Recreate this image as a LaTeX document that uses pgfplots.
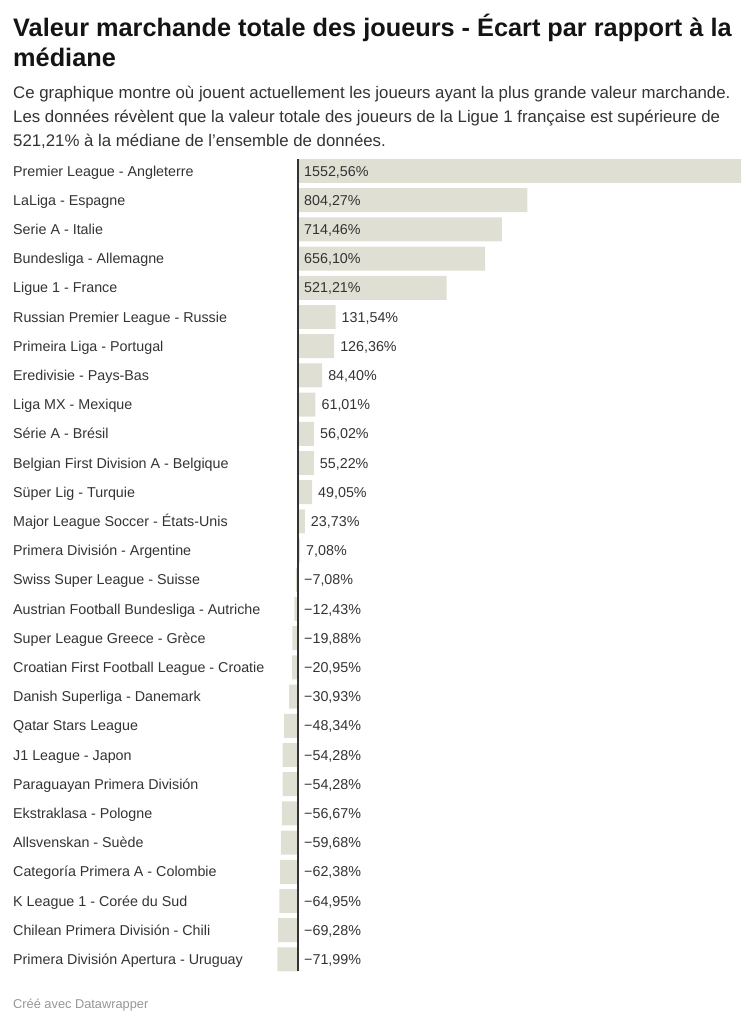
\documentclass[border=0pt]{standalone}
\usepackage{fontspec}
\setmainfont{Liberation Sans}
\usepackage{pgfplots}
\pgfplotsset{compat=1.18}
\usepackage{pgfplotstable}
\definecolor{barc}{RGB}{224,223,212}
\definecolor{txt}{RGB}{51,51,51}
\definecolor{ttl}{RGB}{20,20,20}
\definecolor{foot}{RGB}{150,150,150}

\pgfplotstableread{
y x lab
0 1552.56 {1552,56\%}
1 804.27 {804,27\%}
2 714.46 {714,46\%}
3 656.10 {656,10\%}
4 521.21 {521,21\%}
5 131.54 {131,54\%}
6 126.36 {126,36\%}
7 84.40 {84,40\%}
8 61.01 {61,01\%}
9 56.02 {56,02\%}
10 55.22 {55,22\%}
11 49.05 {49,05\%}
12 23.73 {23,73\%}
13 7.08 {7,08\%}
14 -7.08 {−7,08\%}
15 -12.43 {−12,43\%}
16 -19.88 {−19,88\%}
17 -20.95 {−20,95\%}
18 -30.93 {−30,93\%}
19 -48.34 {−48,34\%}
20 -54.28 {−54,28\%}
21 -54.28 {−54,28\%}
22 -56.67 {−56,67\%}
23 -59.68 {−59,68\%}
24 -62.38 {−62,38\%}
25 -64.95 {−64,95\%}
26 -69.28 {−69,28\%}
27 -71.99 {−71,99\%}
}\data

\begin{document}
\begin{tikzpicture}[x=1pt,y=1pt]
\path[use as bounding box] (0,0) rectangle (754,-1024);
\node[anchor=base west, inner sep=0pt, text=ttl, font=\fontsize{25.3}{30}\selectfont\bfseries] at (13,-37) {Valeur marchande totale des joueurs - Écart par rapport à la};
\node[anchor=base west, inner sep=0pt, text=ttl, font=\fontsize{25.3}{30}\selectfont\bfseries] at (13,-67) {médiane};
\node[anchor=base west, inner sep=0pt, text=txt, font=\fontsize{16.8}{24}\selectfont] at (13,-99) {Ce graphique montre où jouent actuellement les joueurs ayant la plus grande valeur marchande.};
\node[anchor=base west, inner sep=0pt, text=txt, font=\fontsize{16.8}{24}\selectfont] at (13,-123) {Les données révèlent que la valeur totale des joueurs de la Ligue 1 française est supérieure de};
\node[anchor=base west, inner sep=0pt, text=txt, font=\fontsize{16.8}{24}\selectfont] at (13,-147) {521,21\% à la médiane de l{\char"0027}ensemble de données.};
\node[anchor=base west, inner sep=0pt, text=foot, font=\fontsize{12.8}{15}\selectfont] at (13,-1008) {Créé avec Datawrapper};
\begin{axis}[
  at={(270pt,-159pt)}, anchor=north west,
  scale only axis, width=475pt, height=812.344pt,
  xmin=-98.14, xmax=1566.58, ymin=-0.41, ymax=27.41, y dir=reverse,
  xbar, bar width=0.82, bar shift=0pt,
  axis line style={draw=none},
  xtick={0}, xticklabels={}, xmajorgrids,
  major grid style={draw=txt, line width=1.6pt},
  major tick length=0pt,
  ytick={0,...,27},
  yticklabels={Premier League - Angleterre, LaLiga - Espagne, Serie A - Italie, Bundesliga - Allemagne, Ligue 1 - France, Russian Premier League - Russie, Primeira Liga - Portugal, Eredivisie - Pays-Bas, Liga MX - Mexique, Série A - Brésil, Belgian First Division A - Belgique, Süper Lig - Turquie, Major League Soccer - États-Unis, Primera División - Argentine, Swiss Super League - Suisse, Austrian Football Bundesliga - Autriche, Super League Greece - Grèce, Croatian First Football League - Croatie, Danish Superliga - Danemark, Qatar Stars League, J1 League - Japon, Paraguayan Primera División, Ekstraklasa - Pologne, Allsvenskan - Suède, Categoría Primera A - Colombie, K League 1 - Corée du Sud, Chilean Primera División - Chili, Primera División Apertura - Uruguay},
  yticklabel style={anchor=west, inner sep=0pt, text height=13pt, text depth=2.6pt, xshift=-257pt, text=txt, font=\fontsize{14.3}{17}\selectfont},
  axis on top,
  clip=false,
  nodes near coords,
  point meta=explicit symbolic,
  visualization depends on={x \as \rawx},
  nodes near coords style={anchor=west, inner sep=0pt, text height=13pt, text depth=2.6pt, text=txt, font=\fontsize{14.3}{17}\selectfont,
    xshift={((\rawx<0)||(\rawx>300)) ? (6-0.285333*\rawx) : 6}},
]
\addplot[fill=barc, draw=none] table[x=x, y=y, meta=lab] {\data};
\end{axis}
\end{tikzpicture}
\end{document}
